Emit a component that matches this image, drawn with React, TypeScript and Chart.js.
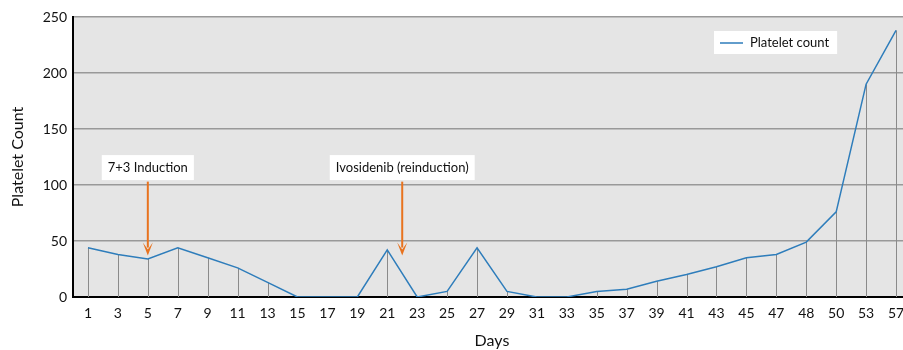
import React, { useEffect, useRef } from "react";
import { Chart, registerables } from "chart.js";

Chart.register(...registerables);

const days = ["1","3","5","7","9","11","13","15","17","19","21","23","25","27","29","31","33","35","37","39","41","43","45","47","48","50","53","57"];
const platelets = [44,38,34,44,35,26,13,0,0,0,42,0,5,44,5,0,0,5,7,14,20,27,35,38,49,76,190,238];
const yTicks = [0, 50, 100, 150, 200, 250];
const annotationLabels = ["7+3 Induction", "Ivosidenib (reinduction)"];
const annotationIndex = [2, 10.5];
const seriesLabel = "Platelet count";

const FONT = "Lato, 'Noto Sans', sans-serif";

const plugin = {
  id: "custom",
  beforeDraw(chart: any) {
    const { ctx, chartArea: a } = chart;
    ctx.save();
    ctx.fillStyle = "#e5e5e5";
    ctx.fillRect(a.left, a.top, a.right - a.left, a.bottom - a.top);
    ctx.restore();
  },
  beforeDatasetsDraw(chart: any) {
    const { ctx, scales } = chart;
    const x = scales.x, y = scales.y;
    ctx.save();
    ctx.strokeStyle = "#8a8a8a";
    ctx.lineWidth = 1;
    platelets.forEach((v, i) => {
      if (v <= 0) return;
      const px = Math.round(x.getPixelForValue(i)) + 0.5;
      ctx.beginPath();
      ctx.moveTo(px, y.getPixelForValue(v));
      ctx.lineTo(px, y.getPixelForValue(0));
      ctx.stroke();
    });
    ctx.restore();
  },
  afterDatasetsDraw(chart: any) {
    const { ctx, scales } = chart;
    const x = scales.x, y = scales.y;
    ctx.save();
    ctx.font = `13px ${FONT}`;
    annotationLabels.forEach((lab, k) => {
      const idx = annotationIndex[k];
      const i0 = Math.floor(idx);
      const frac = idx - i0;
      const px = x.getPixelForValue(i0) + (frac ? (x.getPixelForValue(i0 + 1) - x.getPixelForValue(i0)) * frac : 0);
      const w = ctx.measureText(lab).width + 12;
      const cy = y.getPixelForValue(116);
      ctx.fillStyle = "#ffffff";
      ctx.fillRect(px - w / 2, cy - 12, w, 25);
      ctx.fillStyle = "#111";
      ctx.textAlign = "center";
      ctx.textBaseline = "middle";
      ctx.fillText(lab, px, cy + 1);
      const top = y.getPixelForValue(103);
      const tip = y.getPixelForValue(37);
      ctx.strokeStyle = "#e8731f";
      ctx.fillStyle = "#e8731f";
      ctx.lineWidth = 2;
      ctx.beginPath();
      ctx.moveTo(px, top);
      ctx.lineTo(px, tip - 8);
      ctx.stroke();
      ctx.beginPath();
      ctx.moveTo(px - 5, tip - 13);
      ctx.lineTo(px, tip - 6);
      ctx.lineTo(px + 5, tip - 13);
      ctx.lineTo(px, tip);
      ctx.closePath();
      ctx.fill();
    });
    // legend
    const lx = 714, ly = 31;
    ctx.font = `13px ${FONT}`;
    const tw = ctx.measureText(seriesLabel).width;
    ctx.fillStyle = "#ffffff";
    ctx.fillRect(lx, ly, 36 + tw + 8, 23);
    ctx.strokeStyle = "#2e7dbb";
    ctx.lineWidth = 1.5;
    ctx.beginPath();
    ctx.moveTo(lx + 6, ly + 12);
    ctx.lineTo(lx + 29, ly + 12);
    ctx.stroke();
    ctx.fillStyle = "#111";
    ctx.textAlign = "left";
    ctx.textBaseline = "middle";
    ctx.fillText(seriesLabel, lx + 36, ly + 12);
    ctx.restore();
  },
};

export default function App() {
  const ref = useRef<HTMLCanvasElement>(null);
  useEffect(() => {
    const chart = new Chart(ref.current as HTMLCanvasElement, {
      type: "line",
      data: {
        labels: days,
        datasets: [
          {
            label: seriesLabel,
            data: platelets,
            borderColor: "#2e7dbb",
            borderWidth: 1.5,
            pointRadius: 0,
            tension: 0,
          },
        ],
      },
      options: {
        responsive: false,
        animation: false,
        layout: { padding: { top: 17, right: 0, left: 0, bottom: 0 } },
        plugins: { legend: { display: false }, tooltip: { enabled: false } },
        scales: {
          x: {
            offset: true,
            grid: { display: false },
            border: { color: "#000", width: 2 },
            ticks: { color: "#111", font: { family: FONT, size: 14 }, padding: 0, maxRotation: 0, autoSkip: false },
            title: { display: true, text: "Days", color: "#111", font: { family: FONT, size: 16 }, padding: { top: 0, bottom: 0 } },
            afterFit: (s: any) => { s.height = 53; },
          },
          y: {
            min: 0,
            max: 250,
            afterBuildTicks: (s: any) => { s.ticks = yTicks.map((v) => ({ value: v })); },
            grid: { color: "#999", lineWidth: 1.5, drawTicks: false },
            border: { color: "#000", width: 2 },
            ticks: { color: "#111", font: { family: FONT, size: 14 }, padding: 6 },
            title: { display: true, text: "Platelet Count", color: "#111", font: { family: FONT, size: 16 }, padding: { top: 8, bottom: 4 } },
            afterFit: (s: any) => { s.width = 73; },
          },
        },
      },
      plugins: [plugin],
    });
    return () => chart.destroy();
  }, []);
  return (
    <div style={{ position: "fixed", left: 0, top: 0, width: 903, height: 350, overflow: "hidden", background: "#fff" }}>
      <canvas ref={ref} width={911} height={350} style={{ width: 911, height: 350 }} />
    </div>
  );
}
